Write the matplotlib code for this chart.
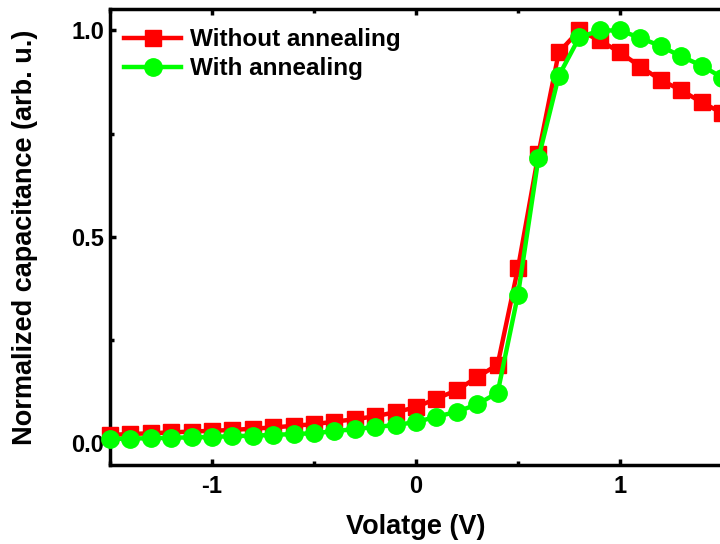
import matplotlib
matplotlib.use("Agg")
import matplotlib.pyplot as plt
import numpy as np

plt.rcParams['font.family'] = ['Liberation Sans', 'DejaVu Sans']
plt.rcParams['font.weight'] = 'bold'

voltage = [-1.5, -1.4, -1.3, -1.2, -1.1, -1.0, -0.9, -0.8, -0.7, -0.6,
           -0.5, -0.4, -0.3, -0.2, -0.1, 0.0, 0.1, 0.2, 0.3, 0.4,
           0.5, 0.6, 0.7, 0.8, 0.9, 1.0, 1.1, 1.2, 1.3, 1.4, 1.5]

without_annealing = [0.020, 0.022, 0.024, 0.026, 0.028, 0.030, 0.032, 0.035, 0.038, 0.042,
                     0.046, 0.052, 0.058, 0.065, 0.075, 0.087, 0.108, 0.128, 0.160, 0.190,
                     0.424, 0.700, 0.947, 1.000, 0.976, 0.947, 0.912, 0.880, 0.855, 0.826, 0.800]

with_annealing = [0.010, 0.011, 0.012, 0.013, 0.014, 0.015, 0.017, 0.018, 0.020, 0.022,
                  0.024, 0.029, 0.034, 0.039, 0.044, 0.051, 0.064, 0.076, 0.094, 0.122,
                  0.360, 0.690, 0.890, 0.983, 1.000, 1.000, 0.982, 0.962, 0.937, 0.915, 0.886]

fig = plt.figure(figsize=(7.2, 5.44), dpi=100)
ax = fig.add_axes([110/720, 79/544, 612/720, 456/544])

ax.plot(voltage, without_annealing, color='#ff0000', lw=3.2, marker='s', ms=11.5,
        label='Without annealing', clip_on=False, zorder=3)
ax.plot(voltage, with_annealing, color='#00ff00', lw=3.2, marker='o', ms=12.5,
        label='With annealing', clip_on=False, zorder=4)

ax.set_xlim(-1.5, 1.5)
ax.set_ylim(-0.053, 1.052)
ax.set_xticks([-1, 0, 1])
ax.set_xticklabels(['-1', '0', '1'])
ax.set_xticks([-1.5, -0.5, 0.5, 1.5], minor=True)
ax.set_yticks([0.0, 0.5, 1.0])
ax.set_yticklabels(['0.0', '0.5', '1.0'])
ax.set_yticks([0.25, 0.75], minor=True)
ax.tick_params(which='both', direction='in', width=2.5, top=True, right=False,
               labelsize=17)
ax.tick_params(axis='y', pad=4)
ax.tick_params(axis='x', pad=7)
ax.tick_params(which='major', length=4)
ax.tick_params(which='minor', length=3)
for lab in ax.get_xticklabels() + ax.get_yticklabels():
    lab.set_fontweight('bold')
for s in ax.spines.values():
    s.set_linewidth(2.5)
ax.spines['right'].set_visible(False)

ax.set_xlabel('Volatge (V)', fontsize=19.5, fontweight='bold', labelpad=12)
ax.set_ylabel('Normalized capacitance (arb. u.)', fontsize=19.5, fontweight='bold', labelpad=24)

leg = ax.legend(loc='upper left', bbox_to_anchor=(-0.005, 0.995), frameon=False,
                handlelength=2.35, handletextpad=0.35, labelspacing=0.25,
                borderaxespad=0.3, prop={'weight': 'bold', 'size': 17.5})

fig.savefig('out.png', dpi=100)
